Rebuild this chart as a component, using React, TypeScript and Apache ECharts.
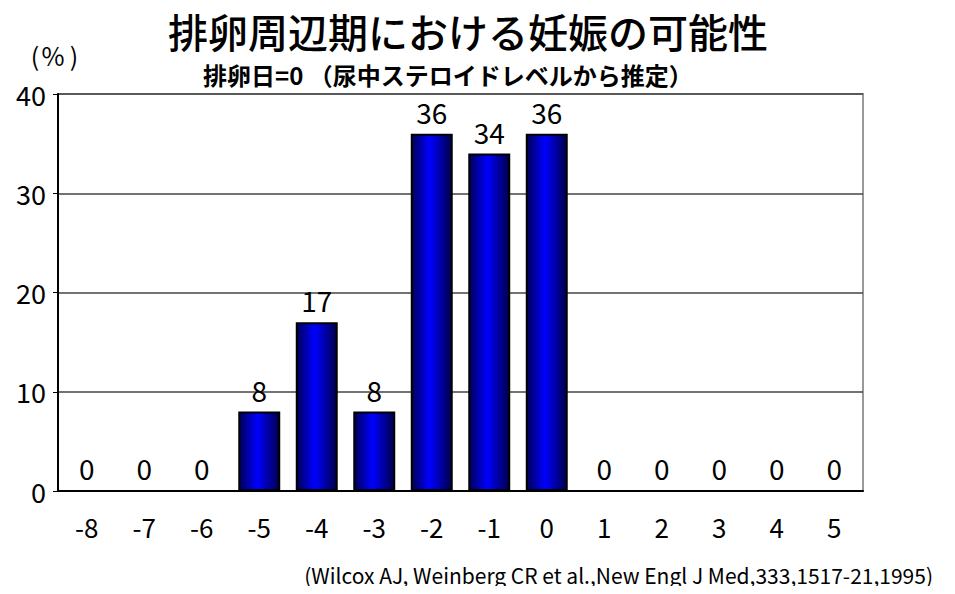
import React, { useEffect, useRef } from "react";
import * as echarts from "echarts";

// Days relative to ovulation (day 0)
const days = ["-8", "-7", "-6", "-5", "-4", "-3", "-2", "-1", "0", "1", "2", "3", "4", "5"];
// Probability of conception (%)
const probability = [0, 0, 0, 8, 17, 8, 36, 34, 36, 0, 0, 0, 0, 0];
const yTicks = { min: 0, max: 40, interval: 10 };

const titleText = "排卵周辺期における妊娠の可能性";
const subtitleText = "排卵日=0 （尿中ステロイドレベルから推定）";
const unitParts = ["(", "%", ")"];
const sourceText = "(Wilcox AJ, Weinberg CR et al.,New Engl J Med,333,1517-21,1995)";

const FONT = "'Noto Sans CJK JP', 'Noto Sans', sans-serif";

export default function App() {
  const ref = useRef<HTMLDivElement>(null);

  useEffect(() => {
    if (!ref.current) return;
    const chart = echarts.init(ref.current, undefined, { renderer: "svg" });

    const barFill = new echarts.graphic.LinearGradient(0, 0, 1, 0, [
      { offset: 0, color: "#000055" },
      { offset: 0.45, color: "#0000ff" },
      { offset: 1, color: "#00004a" },
    ]);

    // unit label "(%)" drawn with widely spaced parentheses
    const unitX = [35, 53, 74];
    const unitGraphics = unitParts.map((t, i) => ({
      type: "text",
      x: unitX[i],
      y: 55,
      style: {
        text: t,
        fontSize: 25,
        fontFamily: FONT,
        fill: "#000",
        align: "center",
        verticalAlign: "middle",
      },
    }));

    chart.setOption({
      animation: false,
      backgroundColor: "#ffffff",
      textStyle: { fontFamily: FONT },
      title: [
        {
          text: titleText,
          left: 463,
          top: 6,
          textAlign: "center",
          textStyle: { fontSize: 40, fontWeight: 500, color: "#000", fontFamily: FONT },
        },
        {
          text: subtitleText,
          left: 198,
          top: 57,
          textStyle: { fontSize: 24, fontWeight: "bold", color: "#000", fontFamily: FONT },
        },
      ],
      graphic: [
        ...unitGraphics,
        {
          type: "text",
          x: 933,
          y: 575,
          style: {
            text: sourceText,
            fontSize: 21,
            fontFamily: FONT,
            fill: "#000",
            align: "right",
            verticalAlign: "middle",
          },
        },
      ],
      grid: {
        left: 58,
        right: 92,
        top: 94,
        bottom: 103,
        show: true,
        borderColor: "#999999",
        borderWidth: 2,
        backgroundColor: "transparent",
      },
      xAxis: {
        type: "category",
        data: days,
        axisLine: { lineStyle: { color: "#000", width: 2 } },
        axisTick: { inside: true, length: 6, lineStyle: { color: "#000" } },
        axisLabel: { fontSize: 26, color: "#000", margin: 22, fontFamily: FONT },
        splitLine: { show: false },
      },
      yAxis: {
        type: "value",
        min: yTicks.min,
        max: yTicks.max,
        interval: yTicks.interval,
        axisLine: { show: true, lineStyle: { color: "#000", width: 2 } },
        axisTick: { show: true, length: 5, lineStyle: { color: "#000" } },
        axisLabel: { fontSize: 27, color: "#000", margin: 12, fontFamily: FONT },
        splitLine: { lineStyle: { color: "#444444", width: 1.5 } },
      },
      series: [
        {
          type: "bar",
          data: probability,
          barCategoryGap: "27%",
          itemStyle: { color: barFill, borderColor: "#000", borderWidth: 2 },
          label: {
            show: true,
            position: "top",
            distance: 8,
            fontSize: 28,
            color: "#000",
            fontFamily: FONT,
          },
        },
      ],
    });

    return () => chart.dispose();
  }, []);

  return <div ref={ref} style={{ width: 955, height: 594, margin: -8 }} />;
}
